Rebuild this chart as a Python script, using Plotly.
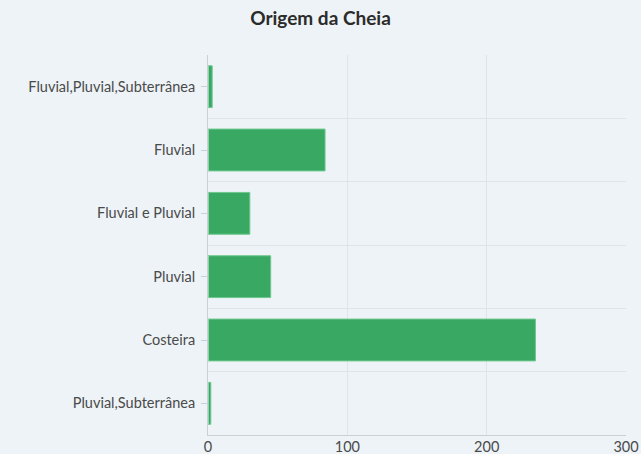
import plotly.graph_objects as go

# origem da cheia - contagem de eventos
categorias = ['Fluvial,Pluvial,Subterrânea', 'Fluvial', 'Fluvial e Pluvial',
              'Pluvial', 'Costeira', 'Pluvial,Subterrânea']
valores = [3, 84, 30, 45, 235, 2]

fundo = '#edf3f7'
grelha = '#dde5ea'

bars = go.Bar(
    x=valores,
    y=categorias,
    orientation='h',
    marker=dict(color='#38a862', line=dict(color='#6cc78d', width=1)),
    hoverinfo='x+y',
)

# traco invisivel so para desenhar a grelha nos limites das categorias
grid_trace = go.Bar(
    x=[0] * len(categorias),
    y=categorias,
    orientation='h',
    yaxis='y2',
    marker=dict(color='rgba(0,0,0,0)'),
    hoverinfo='skip',
    showlegend=False,
)

fig = go.Figure(data=[grid_trace, bars])

fig.update_layout(
    width=641, height=454,
    paper_bgcolor=fundo, plot_bgcolor=fundo,
    title=dict(text='<b>Origem da Cheia</b>', x=0.5, xanchor='center',
               y=0.96, yanchor='middle',
               font=dict(family='Lato', size=19, color='#2b2b2b')),
    font=dict(family='Lato', size=14.5, color='#4a4a4a'),
    margin=dict(l=208, r=15, t=55, b=19, autoexpand=False),
    bargap=0.34,
    showlegend=False,
    barmode='overlay',
    xaxis=dict(range=[0, 300], dtick=100, showgrid=True, gridcolor=grelha,
               zeroline=False, showline=True, linecolor='#c9d1d6',
               ticks='', automargin=False, ticklabelstandoff=-1,
               tickfont=dict(size=14.5, color='#4a4a4a')),
    yaxis=dict(autorange='reversed', showgrid=False, showline=True,
               linecolor='#c9d1d6', ticks='outside', ticklen=6,
               tickcolor='#c9d1d6', ticklabelstandoff=3, automargin=False),
    yaxis2=dict(overlaying='y', autorange='reversed', tickson='boundaries',
                showgrid=True, gridcolor=grelha, showticklabels=False,
                ticks='', showline=False, side='left', zeroline=False,
                automargin=False),
)

fig.write_html('out.html', config={'displayModeBar': False},
               post_script="document.body.style.margin='0';")
